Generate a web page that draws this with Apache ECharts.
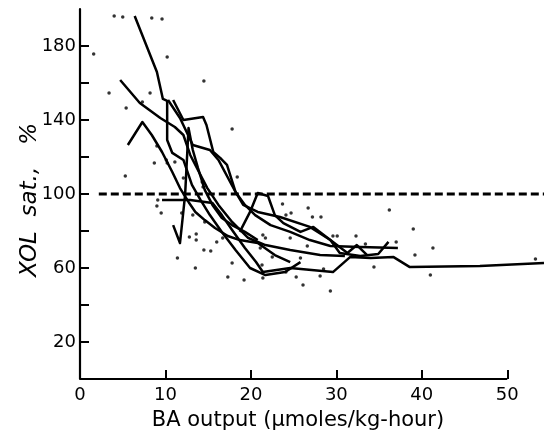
<!DOCTYPE html>
<html><head><meta charset="utf-8">
<script src="https://cdn.jsdelivr.net/npm/echarts@6/dist/echarts.min.js"></script>
<style>html,body{margin:0;padding:0;background:#fff}#c{width:544px;height:442px}</style>
</head><body><div id="c"></div>
<script>
// ---- data (BA output, XOL saturation %) ----
var xTicks = [0, 10, 20, 30, 40, 50];
var xAxisSpan = [[0, 0], [50, 0]];
var yTickLabels = [20, 60, 100, 140, 180];
var yTickMarks = [20, 40, 60, 80, 100, 120, 140, 160, 180];
var refLine = [[2.2, 100], [54.3, 100]];

var lineA = [[6.4,196.2],[9.0,165.9],[9.7,151.4],[10.2,150.3],[10.2,129.2],[10.8,122.2],[12.1,118.4],[13.1,104.9],[14.1,96.8],[15.2,88.6],[16.6,79.5],[18.2,69.7],[19.9,60],[21.7,56.2],[24.0,57.8],[25.8,63.2]];
var lineB = [[4.7,161.6],[7.0,149.2],[9.4,141.1],[11.1,136.2],[12.1,131.9],[12.9,121.1],[13.8,113],[14.9,103.2],[16.2,94.1],[17.8,84.9],[19.7,76.2],[21.7,72.4],[24.6,69.7],[28.1,67],[31.0,66.5]];
var lineC = [[5.6,126.5],[7.3,138.9],[8.4,131.9],[9.6,122.7],[10.8,111.9],[11.7,103.2],[12.7,95.7],[13.5,90.3],[14.6,85.9],[15.8,81.6],[17.3,77.3],[18.7,75.1],[20.8,73.5],[22.8,67],[24.6,63.2]];
var lineD = [[10.3,150.8],[11.7,141.1],[13.2,126.5],[15.2,123.8],[16.2,118.4],[18.2,101.1],[19.3,94.1],[20.5,88.6],[22.3,83.2],[24.6,79.5],[26.9,75.1],[29.3,71.9],[32.8,71.4],[37.2,70.8]];
var lineE = [[10.9,150.8],[12.1,140],[14.4,141.6],[14.8,137.3],[15.6,122.7],[16.4,119.5],[17.2,115.7],[18.2,101.1],[19.1,94.1],[20.8,90.3],[23.4,87.6],[26.9,82.2],[29.3,75.1],[31.3,68.1],[32.4,72.4],[33.6,67]];
var lineF = [[10.9,83.2],[11.7,73.5],[12.3,99.5],[12.7,135.7],[13.2,123.8],[13.8,114.1],[14.6,102.2],[15.5,94.1],[16.6,87],[17.8,83.2],[19.3,79.5],[20.8,75.1]];
var lineG = [[9.6,96.8],[12.9,96.8],[15.5,95.1],[16.6,88.6],[17.8,80.5],[19.3,70.8],[20.6,63.2],[21.4,57.8],[24.6,60],[29.6,57.8],[31.6,65.9],[34.0,65.4],[36.7,65.9],[38.6,60.5],[46.8,61.1],[54.3,62.7]];
var lineJ = [[18.7,79.5],[19.9,90.3],[20.8,100.5],[22.0,98.9],[22.8,88.6],[23.8,84.3],[25.8,79.5],[27.3,82.2],[29.3,75.1],[30.4,68.1],[32.8,66.5],[34.9,67.6],[36.1,74.1]];

var dots = [[4.0,196.2],[5.0,195.7],[8.4,195.1],[9.6,194.6],[1.6,175.7],[10.2,174.1],[14.5,161.1],[3.4,154.6],[8.2,154.6],[7.3,149.7],[5.4,146.5],[17.8,135.1],[9.0,125.9],[8.7,116.8],[10.2,116.8],[5.3,109.7],[18.4,109.2],[12.1,108.6],[14.3,106.5],[14.4,103.8],[11.1,117.3],[10.1,118.4],[9.1,96.8],[9.0,93.5],[9.5,89.7],[11.9,89.7],[13.2,88.6],[11.4,65.4],[12.8,76.8],[13.6,78.4],[13.6,75.1],[14.6,84.9],[14.5,69.7],[15.3,69.2],[13.5,60],[17.3,55.1],[19.2,53.5],[21.4,54.6],[17.8,62.7],[16.0,74.1],[16.7,76.2],[21.4,77.8],[21.7,76.2],[21.1,70.8],[22.5,65.9],[21.3,61.6],[23.7,94.6],[26.7,92.4],[28.2,87.6],[27.2,87.6],[24.7,89.7],[24.1,88.6],[36.2,91.4],[39.0,81.1],[41.3,70.8],[37.0,74.1],[39.2,67],[41.0,56.2],[53.3,64.9],[29.6,77.3],[30.1,77.3],[32.3,77.3],[33.4,73],[34.4,60.5],[28.1,55.7],[25.3,55.1],[24.1,57.8],[26.6,71.9],[25.8,65.4],[28.5,59.5],[24.6,76.2],[26.1,50.8],[29.3,47.6]];

var FONT = 'DejaVu Sans';
var chart = echarts.init(document.getElementById('c'), null, {renderer: 'canvas'});
var lines = [lineA, lineB, lineC, lineD, lineE, lineF, lineG, lineJ];
var series = lines.map(function (d) {
  return {type: 'line', data: d, symbol: 'none', silent: true,
    lineStyle: {color: '#000', width: 2.5, join: 'round'}, z: 3};
});
series.push({type: 'line', data: refLine, symbol: 'none', silent: true,
  lineStyle: {color: '#000', width: 2.8, type: [8, 4]}, z: 2});
series.push({type: 'line', data: xAxisSpan, symbol: 'none', silent: true,
  lineStyle: {color: '#000', width: 2.2}, z: 5});
series.push({type: 'scatter', data: dots, symbol: 'circle', symbolSize: 3.5,
  itemStyle: {color: '#000'}, silent: true, z: 4});

chart.setOption({
  animation: false,
  backgroundColor: '#fff',
  grid: {left: 80, right: 0, top: 9, bottom: 63, containLabel: false},
  xAxis: {
    type: 'value', min: 0, max: 54.3,
    axisLine: {show: false},
    axisTick: {show: true, inside: true, length: 9, lineStyle: {color: '#000', width: 2},
      customValues: xTicks.slice(1)},
    axisLabel: {customValues: xTicks, color: '#000', fontFamily: FONT, fontSize: 18, margin: 7},
    splitLine: {show: false}
  },
  yAxis: {
    type: 'value', min: 0, max: 200, interval: 20,
    axisLine: {show: true, onZero: false, lineStyle: {color: '#000', width: 2.2}},
    axisTick: {show: true, inside: true, length: 9, lineStyle: {color: '#000', width: 2},
      customValues: yTickMarks},
    axisLabel: {customValues: yTickLabels, color: '#000', fontFamily: FONT, fontSize: 18, margin: 4},
    splitLine: {show: false}
  },
  graphic: [
    {type: 'text', x: 298, y: 421, style: {text: 'BA output (\u03bcmoles/kg-hour)', fill: '#000',
      font: '21px "DejaVu Sans"', textAlign: 'center', textVerticalAlign: 'middle'}},
    {type: 'text', x: 30, y: 200, rotation: Math.PI / 2, style: {text: 'XOL  sat.,   %', fill: '#000',
      font: 'italic 23px "DejaVu Sans"', textAlign: 'center', textVerticalAlign: 'middle'}}
  ],
  series: series
});
</script></body></html>
